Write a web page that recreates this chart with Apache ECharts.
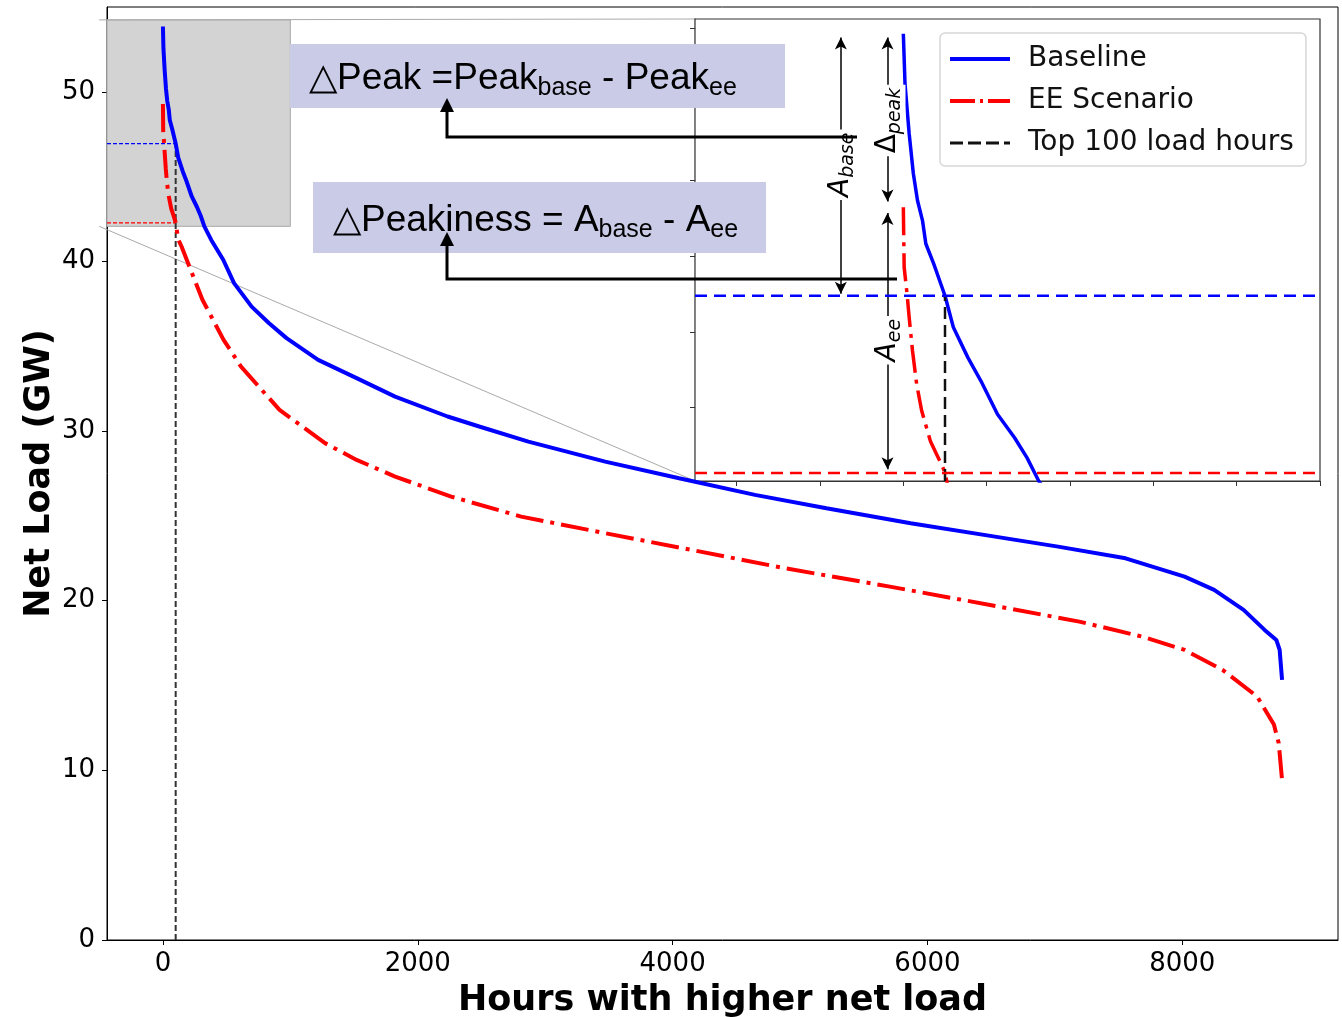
<!DOCTYPE html>
<html><head><meta charset="utf-8">
<script src="https://cdn.jsdelivr.net/npm/echarts@6/dist/echarts.min.js"></script>
<style>html,body{margin:0;padding:0;background:#fff;overflow:hidden}#c{width:1342px;height:1017px}</style>
</head><body><div id="c"></div>
<script>
// ---------------- data ----------------
const BASE_HOURS = [0, 4, 14, 24, 34, 46, 54, 73, 90, 100, 120, 155, 186, 226, 267, 297, 325, 379, 473, 558, 696, 833, 970, 1218, 1520, 1822, 2234, 2482, 2868, 3471, 4051, 4646, 5207, 5868, 6530, 7025, 7555, 8018, 8250, 8481, 8646, 8738, 8764, 8783];
const BASE_LOAD  = [53.85, 52.54, 51.22, 50.17, 49.46, 48.93, 48.32, 47.79, 47.26, 46.95, 46.12, 45.32, 44.71, 43.83, 43.21, 42.68, 42.07, 41.27, 40.1, 38.72, 37.34, 36.36, 35.48, 34.2, 33.12, 32.03, 30.86, 30.27, 29.38, 28.2, 27.22, 26.24, 25.45, 24.57, 23.78, 23.19, 22.5, 21.42, 20.64, 19.46, 18.28, 17.69, 17.1, 15.33];
const EE_HOURS = [0, 2, 9, 14, 22, 32, 44, 65, 80, 95, 100, 120, 146, 310, 476, 613, 915, 1272, 1520, 1822, 2262, 2812, 3471, 4084, 4878, 5705, 6565, 7192, 7688, 8018, 8316, 8588, 8719, 8757, 8783];
const EE_LOAD  = [49.28, 47.7, 46.99, 46.38, 45.5, 44.62, 43.92, 43.12, 42.77, 42.42, 42.28, 41.3, 40.88, 37.74, 35.38, 33.8, 31.25, 29.29, 28.3, 27.32, 26.14, 24.96, 23.98, 23.09, 21.92, 20.83, 19.65, 18.77, 17.88, 17.1, 15.92, 14.35, 12.7, 11.6, 9.43];

const X_TICKS = [0, 2000, 4000, 6000, 8000];
const Y_TICKS = [0, 10, 20, 30, 40, 50];
const INSET_X_TICKS = [-400, -200, 0, 200, 400, 600, 800, 1000];
const INSET_Y_TICKS = [44, 46, 48, 50, 52, 54];

const TOP_HOURS = 100;
const PEAK_BASE = BASE_LOAD[0];
const PEAK_EE = EE_LOAD[0];
const BASE_AT_TOP = BASE_LOAD[BASE_HOURS.indexOf(TOP_HOURS)];
const EE_AT_TOP = EE_LOAD[EE_HOURS.indexOf(TOP_HOURS)];

const MAIN_X = [-439, 9222], MAIN_Y = [0, 55];
const INSET_X = [-500, 1000], INSET_Y = [42.07, 54.24];
const ARROW_X_A = -150, ARROW_X_B = -38;   // hours where the double arrows stand in the inset

const LEGEND_NAMES = ['Baseline', 'EE Scenario', 'Top 100 load hours'];
const X_NAME = 'Hours with higher net load';
const Y_NAME = 'Net Load (GW)';

// ---------------- chart ----------------
const zip = (a, b) => a.map((v, i) => [v, b[i]]);
const BLUE = '#0000ff', RED = '#ff0000';
const DASHDOT = [28, 7, 4, 7];
const FONT = 'DejaVu Sans';

const chart = echarts.init(document.getElementById('c'), null, {renderer: 'canvas', width: 1342, height: 1017});

const tickLabel = {fontSize: 26, color: '#000', fontFamily: FONT, formatter: v => String(v)};
const hideSym = {opacity: 0, color: 'rgba(0,0,0,0)', borderWidth: 0};
const option = {
  animation: false,
  backgroundColor: '#fff',
  grid: [
    {left: 107, top: 7, width: 1231, height: 933, show: true, borderColor: '#000', borderWidth: 1, backgroundColor: 'transparent',
     containLabel: false, outerBoundsMode: 'none'},
    {left: 695, top: 19, width: 625, height: 462, show: true, borderColor: '#333', borderWidth: 1.2, backgroundColor: '#fff', z: 3,
     containLabel: false, outerBoundsMode: 'none'}
  ],
  xAxis: [
    {type: 'value', gridIndex: 0, min: MAIN_X[0], max: MAIN_X[1],
     axisLine: {show: true, onZero: false, lineStyle: {color: '#000', width: 1}},
     axisTick: {show: true, customValues: X_TICKS, length: 5, lineStyle: {color: '#000'}},
     axisLabel: {customValues: X_TICKS, margin: 11, ...tickLabel},
     splitLine: {show: false},
     name: X_NAME, nameLocation: 'middle', nameGap: 43, nameMoveOverlap: false,
     nameTextStyle: {fontSize: 35, fontWeight: 'bold', color: '#000', fontFamily: FONT}},
    {type: 'value', gridIndex: 1, min: INSET_X[0], max: INSET_X[1],
     axisLine: {show: true, onZero: false, lineStyle: {color: '#333', width: 1.2}},
     axisTick: {show: true, customValues: INSET_X_TICKS, length: 5, lineStyle: {color: '#333'}},
     axisLabel: {show: false}, splitLine: {show: false}}
  ],
  yAxis: [
    {type: 'value', gridIndex: 0, min: MAIN_Y[0], max: MAIN_Y[1],
     axisLine: {show: true, onZero: false, lineStyle: {color: '#000', width: 1}},
     axisTick: {show: true, customValues: Y_TICKS, length: 5, lineStyle: {color: '#000'}},
     axisLabel: {customValues: Y_TICKS, margin: 12, ...tickLabel},
     splitLine: {show: false},
     name: Y_NAME, nameLocation: 'middle', nameGap: 50, nameRotate: 90, nameMoveOverlap: false,
     nameTextStyle: {fontSize: 35, fontWeight: 'bold', color: '#000', fontFamily: FONT}},
    {type: 'value', gridIndex: 1, min: INSET_Y[0], max: INSET_Y[1],
     axisLine: {show: true, onZero: false, lineStyle: {color: '#333', width: 1.2}},
     axisTick: {show: true, customValues: INSET_Y_TICKS, length: 5, lineStyle: {color: '#333'}},
     axisLabel: {show: false}, splitLine: {show: false}}
  ],
  legend: {
    left: 940, top: 33, orient: 'vertical', z: 20,
    padding: [10, 12, 7, 8], itemWidth: 60, itemHeight: 14, itemGap: 10,
    backgroundColor: '#fff', borderColor: '#d6d6d6', borderWidth: 1.5, borderRadius: 5,
    textStyle: {fontSize: 28, fontFamily: FONT, color: '#111', lineHeight: 32, padding: [0, 0, 0, 13]},
    selectedMode: false,
    data: [
      {name: LEGEND_NAMES[0], itemStyle: hideSym, lineStyle: {width: 4, color: BLUE, type: 'solid'}},
      {name: LEGEND_NAMES[1], itemStyle: hideSym, lineStyle: {width: 4, color: RED, type: [25, 5, 3, 5]}},
      {name: LEGEND_NAMES[2], itemStyle: hideSym, lineStyle: {width: 3, color: '#111', type: [13, 5]}}
    ]
  },
  series: [
    // gray zoom rectangle (main)
    {type: 'line', xAxisIndex: 0, yAxisIndex: 0, data: [], z: 1, silent: true,
     markArea: {silent: true, itemStyle: {color: '#d3d3d3', borderColor: '#a9a9a9', borderWidth: 1},
       data: [[{coord: [MAIN_X[0], INSET_Y[0]]}, {coord: [INSET_X[1], INSET_Y[1]]}]]}},
    // main curves
    {name: LEGEND_NAMES[0], type: 'line', xAxisIndex: 0, yAxisIndex: 0, symbol: 'none', z: 5,
     data: zip(BASE_HOURS, BASE_LOAD), lineStyle: {color: BLUE, width: 4}, itemStyle: {color: BLUE}},
    {name: LEGEND_NAMES[1], type: 'line', xAxisIndex: 0, yAxisIndex: 0, symbol: 'none', z: 5,
     data: zip(EE_HOURS, EE_LOAD), lineStyle: {color: RED, width: 4, type: DASHDOT, cap: 'butt'}, itemStyle: {color: RED}},
    {name: LEGEND_NAMES[2], type: 'line', xAxisIndex: 0, yAxisIndex: 0, symbol: 'none', z: 4,
     data: [[TOP_HOURS, MAIN_Y[0]], [TOP_HOURS, BASE_AT_TOP]], lineStyle: {color: '#333', width: 2, type: [6, 3]}, itemStyle: {color: '#111'}},
    {type: 'line', xAxisIndex: 0, yAxisIndex: 0, symbol: 'none', z: 4, silent: true,
     data: [[MAIN_X[0], BASE_AT_TOP], [TOP_HOURS, BASE_AT_TOP]], lineStyle: {color: BLUE, width: 1.2, type: [4, 2]}, itemStyle: {color: BLUE}},
    {type: 'line', xAxisIndex: 0, yAxisIndex: 0, symbol: 'none', z: 4, silent: true,
     data: [[MAIN_X[0], EE_AT_TOP], [TOP_HOURS, EE_AT_TOP]], lineStyle: {color: RED, width: 1.2, type: [4, 2]}, itemStyle: {color: RED}},
    // inset
    {name: LEGEND_NAMES[0], type: 'line', xAxisIndex: 1, yAxisIndex: 1, symbol: 'none', z: 6,
     data: zip(BASE_HOURS, BASE_LOAD), lineStyle: {color: BLUE, width: 3.5}, itemStyle: {color: BLUE}},
    {name: LEGEND_NAMES[1], type: 'line', xAxisIndex: 1, yAxisIndex: 1, symbol: 'none', z: 6,
     data: zip(EE_HOURS, EE_LOAD), lineStyle: {color: RED, width: 3.5, type: DASHDOT, cap: 'butt'}, itemStyle: {color: RED}},
    {type: 'line', xAxisIndex: 1, yAxisIndex: 1, symbol: 'none', z: 6, silent: true,
     data: [[TOP_HOURS, INSET_Y[0]], [TOP_HOURS, BASE_AT_TOP]], lineStyle: {color: '#111', width: 2.5, type: [12, 6]}, itemStyle: {color: '#111'}},
    {type: 'line', xAxisIndex: 1, yAxisIndex: 1, symbol: 'none', z: 6, silent: true,
     data: [[INSET_X[0], BASE_AT_TOP], [INSET_X[1], BASE_AT_TOP]], lineStyle: {color: BLUE, width: 2.5, type: [12, 7]}, itemStyle: {color: BLUE}},
    {type: 'line', xAxisIndex: 1, yAxisIndex: 1, symbol: 'none', z: 6, silent: true,
     data: [[INSET_X[0], EE_AT_TOP], [INSET_X[1], EE_AT_TOP]], lineStyle: {color: RED, width: 2.5, type: [12, 7]}, itemStyle: {color: RED}},
    // double arrows in inset
    {type: 'line', xAxisIndex: 1, yAxisIndex: 1, data: [], z: 7, silent: true,
     markLine: {silent: true, symbol: ['arrow', 'arrow'], symbolSize: [9, 12], label: {show: false},
       lineStyle: {color: '#000', width: 1.5, type: 'solid'},
       data: [
         [{coord: [ARROW_X_A, PEAK_BASE - 0.1]}, {coord: [ARROW_X_A, BASE_AT_TOP + 0.05]}],
         [{coord: [ARROW_X_B, PEAK_BASE - 0.1]}, {coord: [ARROW_X_B, PEAK_EE + 0.15]}],
         [{coord: [ARROW_X_B, PEAK_EE - 0.15]}, {coord: [ARROW_X_B, EE_AT_TOP + 0.1]}]
       ]}}
  ]
};
chart.setOption(option);

// ---------- annotations (positioned through the axes where they relate to data) ----------
const P0 = (x, y) => chart.convertToPixel({gridIndex: 0}, [x, y]);
const P1 = (x, y) => chart.convertToPixel({gridIndex: 1}, [x, y]);
const g = [];
// zoom connector lines
[INSET_Y[1], INSET_Y[0]].forEach(yy => {
  const a = P0(INSET_X[0], yy), b = P1(INSET_X[0], yy);
  g.push({type: 'line', z: 2, shape: {x1: a[0], y1: a[1], x2: b[0], y2: b[1]}, style: {stroke: '#aaaaaa', lineWidth: 1}});
});
// rotated labels on double arrows
const lab = (xh, y1, y2, text) => {
  const p = P1(xh, (y1 + y2) / 2);
  g.push({type: 'text', x: p[0], y: p[1], rotation: Math.PI / 2, z: 30,
    style: {text, align: 'center', verticalAlign: 'middle', backgroundColor: '#fff', padding: [1, 3],
      rich: {
        i: {fontSize: 28, fontStyle: 'italic', fontFamily: FONT, fill: '#000', lineHeight: 34},
        u: {fontSize: 28, fontFamily: FONT, fill: '#000', lineHeight: 34},
        s: {fontSize: 19, fontStyle: 'italic', fontFamily: FONT, fill: '#000', lineHeight: 16, verticalAlign: 'bottom'}
      }}});
};
lab(ARROW_X_A, PEAK_BASE, BASE_AT_TOP, '{i|A}{s|base}');
lab(ARROW_X_B, PEAK_BASE, PEAK_EE, '{u|Δ}{s|peak}');
lab(ARROW_X_B, PEAK_EE, EE_AT_TOP, '{i|A}{s|ee}');

// formula boxes
const BOX = '#c9cbe7';
const rich = {
  m: {fontSize: 37, fontFamily: 'Liberation Sans', fill: '#000', lineHeight: 44},
  s: {fontSize: 25, fontFamily: 'Liberation Sans', fill: '#000', lineHeight: 18, verticalAlign: 'bottom'}
};
g.push({type: 'rect', z: 40, shape: {x: 290, y: 44, width: 495, height: 64}, style: {fill: BOX}});
g.push({type: 'text', z: 41, x: 309, y: 79, style: {text: '{m|△Peak =Peak}{s|base}{m| - Peak}{s|ee}', verticalAlign: 'middle', rich}});
g.push({type: 'rect', z: 40, shape: {x: 313, y: 182, width: 453, height: 71}, style: {fill: BOX}});
g.push({type: 'text', z: 41, x: 333, y: 221, style: {text: '{m|△Peakiness = A}{s|base}{m| - A}{s|ee}', verticalAlign: 'middle', rich}});
// bent arrows
const bent = (x0, y0, xc, yTip) => {
  g.push({type: 'polyline', z: 45, shape: {points: [[x0, y0], [xc, y0], [xc, yTip + 12]]}, style: {stroke: '#000', lineWidth: 3, fill: null}});
  g.push({type: 'polygon', z: 45, shape: {points: [[xc, yTip], [xc - 7, yTip + 14], [xc + 7, yTip + 14]]}, style: {fill: '#000'}});
};
bent(857, 137, 447, 98);
bent(897, 279, 447, 232);
chart.setOption({graphic: g});
</script></body></html>
